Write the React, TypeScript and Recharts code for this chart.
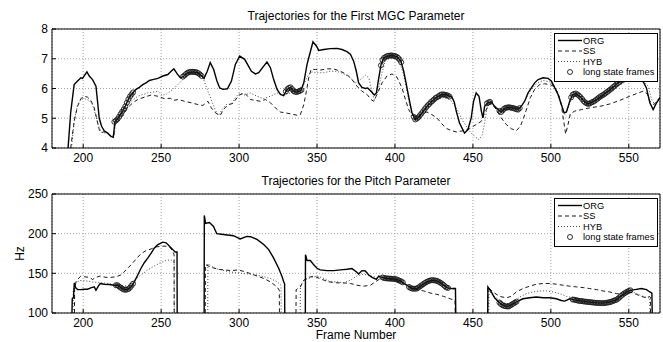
import React from 'react';
import { CartesianGrid, ComposedChart, Line, ReferenceArea, XAxis, YAxis } from 'recharts';

const FONT = '"Liberation Sans", Arial, Helvetica, sans-serif';

// axis ticks
const frameTicks = [200, 250, 300, 350, 400, 450, 500, 550];
const mgcTicks = [4, 5, 6, 7, 8];
const pitchTicks = [100, 150, 200, 250];
const legendNames = ['ORG', 'SS', 'HYB', 'long state frames'];

type Pair = [number, number | null];

// ---- first MGC parameter: [frame, value]
const mgcOrg: Pair[] = [
  [190.3, 4], [192, 5.2], [194.2, 6.13], [196.4, 6.25], [198.5, 6.36], [199.6, 6.34], [201, 6.45], [202.4, 6.56],
  [203.9, 6.42], [206, 6.3], [208.2, 6.08], [209.2, 5.57], [210.3, 5.0], [211.8, 4.73], [213.5, 4.58], [215.7, 4.5],
  [217.8, 4.39], [219.3, 4.36], [220.4, 4.9], [221.7, 4.96], [223.2, 5.07], [225.3, 5.24], [227.5, 5.46], [229.6, 5.71],
  [231.8, 5.85], [233.9, 5.97], [236, 6.04], [238.2, 6.13], [240.3, 6.19], [242.5, 6.27], [244.6, 6.3], [247.9, 6.34],
  [251.1, 6.42], [254.3, 6.47], [256.4, 6.58], [258.2, 6.66], [260.3, 6.49], [262.4, 6.36], [264.6, 6.42], [267.2, 6.53],
  [270.4, 6.56], [273.6, 6.53], [276.2, 6.42], [277.5, 6.34], [279.6, 6.58], [281.5, 6.87], [283.7, 6.64], [285.8, 6.25],
  [287.6, 6.02], [289.7, 5.97], [292.5, 5.99], [295.1, 6.25], [297.6, 6.81], [300.4, 7.09], [303.6, 6.98], [307.9, 6.58],
  [310.5, 6.49], [312.6, 6.53], [315.8, 6.75], [317.9, 6.89], [320.1, 6.7], [322.2, 6.3], [324.4, 5.97], [326.5, 5.8],
  [328.6, 5.76], [330.8, 5.97], [332.9, 6.04], [335, 5.91], [337.2, 5.88], [339.7, 5.93], [341.5, 6.19], [343.6, 6.81],
  [345.3, 7.15], [347.4, 7.57], [349.6, 7.43], [351.1, 7.28], [354.3, 7.31], [358.5, 7.34], [362.8, 7.35], [366, 7.31],
  [369.2, 7.24], [371.4, 7.15], [373.5, 6.92], [375.2, 6.58], [376.7, 6.19], [378.8, 6.04], [381, 6.0], [382.5, 6.02],
  [384.6, 5.91], [386.8, 5.78], [388.1, 5.85], [389.6, 6.36], [391.1, 6.81], [392.8, 7.03], [395.3, 7.09], [398.1, 7.11],
  [401.3, 7.07], [403.8, 6.92], [405.6, 6.58], [407.3, 6.13], [409.4, 5.57], [410.9, 5.18], [413, 4.96], [415.2, 5.03],
  [417.3, 5.18], [420.5, 5.4], [423.7, 5.57], [426.9, 5.71], [430.1, 5.8], [433.3, 5.78], [436.5, 5.71], [438, 5.55],
  [439.3, 5.24], [441.4, 4.84], [444.6, 4.5], [446.8, 4.62], [448.9, 5.01], [450.4, 5.57], [452.1, 5.85], [453.9, 5.74],
  [455.4, 5.24], [456.4, 5.01], [457.5, 5.4], [459.6, 5.52], [461.8, 5.55], [463.9, 5.4], [466.1, 5.29], [468.2, 5.21],
  [470.3, 5.33], [473.6, 5.37], [476.8, 5.33], [478.9, 5.29], [481, 5.4], [483.2, 5.57], [485.3, 5.85], [487.5, 6.02],
  [489.6, 6.19], [491.8, 6.3], [495, 6.36], [498.2, 6.34], [500.3, 6.25], [502.5, 6.02], [504.6, 5.8], [506.7, 5.46],
  [508.5, 5.18], [510, 5.21], [512.1, 5.57], [513.8, 5.78], [516, 5.83], [518.5, 5.74], [521.7, 5.55], [523.9, 5.48],
  [527.1, 5.55], [530.3, 5.66], [533.5, 5.78], [536.7, 5.91], [539.9, 6.04], [543.1, 6.19], [546.3, 6.3], [549.6, 6.38],
  [553.5, 6.48], [557, 6.4], [559.5, 6.2], [561.3, 6.02], [563.5, 5.52], [565.6, 5.29], [567.8, 5.52], [570, 5.69],
];

const mgcSs: Pair[] = [
  [192, 4], [193.1, 4.45], [194.6, 5.01], [196.4, 5.4], [198.5, 5.66], [200.6, 5.74], [202.8, 5.71], [204.9, 5.6],
  [207.1, 5.35], [208.8, 4.96], [210.3, 4.62], [211.4, 4.51], [213.5, 4.55], [216, 4.48], [218.5, 4.38], [219.5, 4.4],
  [220.5, 4.85], [222, 4.9], [225.3, 5.07], [228.5, 5.35], [231.8, 5.52], [235, 5.63], [239.3, 5.71], [243.6, 5.78],
  [247.9, 5.74], [252.1, 5.66], [256, 5.67], [258, 5.6], [261, 5.63], [265, 5.57], [269.3, 5.52], [273.6, 5.46],
  [276.8, 5.43], [280, 5.57], [282.2, 5.35], [284.3, 5.21], [286.5, 5.12], [288, 5.1], [290, 5.3], [293, 5.45],
  [296, 5.5], [300, 5.78], [303.6, 5.85], [307.3, 5.63], [310.5, 5.6], [313.7, 5.57], [316.9, 5.63], [320.1, 5.52],
  [323.3, 5.35], [326.5, 5.21], [329.7, 5.18], [332.9, 5.15], [337.2, 5.1], [339.3, 5.12], [341.5, 5.46], [343.2, 5.91],
  [344.7, 6.36], [346.2, 6.64], [349, 6.64], [352.1, 6.62], [356.4, 6.66], [360.7, 6.66], [365, 6.58], [369.2, 6.47],
  [372.4, 6.3], [375.6, 6.08], [378.8, 5.91], [382.1, 5.8], [384.6, 5.63], [386.3, 5.57], [388.5, 5.8], [391.7, 6.19],
  [394.9, 6.42], [398.1, 6.49], [401.3, 6.38], [404.5, 6.02], [406.7, 5.63], [408.8, 5.29], [410.9, 5.1], [414.1, 5.07],
  [417.3, 5.15], [420.5, 5.21], [423.7, 5.12], [426.9, 5.01], [430.1, 4.81], [433.3, 4.65], [436.5, 4.58], [439.3, 4.54],
  [443.6, 4.58], [447.9, 4.65], [452.1, 4.79], [455.4, 4.9], [457.5, 5.18], [459.6, 5.4], [461.8, 5.52], [465, 5.29],
  [468.2, 5.01], [471.4, 4.79], [474.6, 4.65], [477.8, 4.58], [480.4, 4.73], [482.5, 5.01], [484.7, 5.35], [486.8, 5.69],
  [489.6, 5.97], [492.8, 6.13], [496, 6.16], [499.3, 6.13], [501.8, 6.08], [504.6, 5.85], [506.7, 5.46], [508.2, 4.9],
  [509.5, 4.47], [511, 4.79], [512.5, 5.15], [515.3, 5.24], [519.6, 5.29], [524.9, 5.35], [531.4, 5.4], [537.8, 5.48],
  [544.2, 5.6], [550.6, 5.74], [556, 5.85], [559.2, 5.91], [561.8, 5.82], [563.5, 5.57], [566.1, 5.46], [568.8, 5.63],
  [570, 5.7],
];

const mgcHyb: Pair[] = [
  [192.5, 4], [194.2, 4.9], [196.4, 5.46], [198.5, 5.63], [200.6, 5.66], [203.9, 5.6], [206, 5.45], [208, 5.1],
  [210, 4.7], [212, 4.52], [215, 4.5], [218.5, 4.4], [220, 4.42], [220.8, 4.88], [223, 5.0], [226, 5.2], [228, 5.4],
  [230.7, 5.57], [235, 5.74], [241.4, 5.85], [247.9, 5.91], [250.5, 5.78], [253.2, 5.8], [258.6, 6.02], [262.9, 6.25],
  [266.1, 6.42], [269.3, 6.49], [273.6, 6.49], [276.8, 6.36], [280, 5.91], [283.3, 5.46], [285.4, 5.21], [286.9, 5.1],
  [289.1, 5.29], [291.8, 5.46], [295.1, 5.48], [298.3, 5.74], [300.4, 5.85], [303.6, 5.78], [307.3, 5.85], [311.5, 5.74],
  [315.8, 5.66], [320.1, 5.74], [324.4, 5.85], [328.6, 5.8], [332.9, 5.85], [337.2, 5.91], [340.4, 6.02], [342.5, 6.25],
  [344.7, 6.47], [346.8, 6.56], [350, 6.53], [354.3, 6.53], [358.5, 6.58], [362.8, 6.58], [367.1, 6.49], [371.4, 6.36],
  [374.6, 6.19], [377.8, 6.3], [381, 6.45], [383.2, 6.36], [385.3, 5.91], [386.8, 5.6], [389, 5.91], [391.7, 6.53],
  [393.8, 6.92], [397, 7.03], [400.2, 7.0], [403, 6.87], [405.6, 6.47], [407.7, 5.91], [409.8, 5.35], [412, 5.07],
  [415.2, 5.07], [418.4, 5.24], [422.6, 5.46], [426.9, 5.63], [431.2, 5.69], [435.3, 5.63], [439.3, 5.35], [443.6, 4.9],
  [447.9, 4.56], [451.1, 4.39], [453.9, 4.28], [456, 4.45], [457.5, 4.84], [459, 5.35], [460.7, 5.55], [462.8, 5.46],
  [466.1, 5.29], [469.3, 5.26], [473.6, 5.33], [477.8, 5.35], [481, 5.4], [484.3, 5.69], [487.5, 5.97], [490.7, 6.16],
  [495, 6.27], [499.3, 6.22], [502.5, 6.08], [505.2, 5.74], [507.4, 5.35], [508.9, 5.12], [511, 5.35], [513.2, 5.69],
  [516.4, 5.8], [519.6, 5.69], [522.8, 5.52], [527.1, 5.57], [532.4, 5.74], [537.8, 5.91], [543.1, 6.08], [548.5, 6.25],
  [553, 6.35], [559.2, 6.25], [562.4, 6.08], [564.6, 5.63], [566.7, 5.46], [570, 5.69],
];

const mgcLong: Pair[] = [
  [220, 4.88], [221, 4.92], [222, 4.97], [223, 5.05], [224, 5.14], [225, 5.22], [226, 5.3], [227, 5.4], [228, 5.52],
  [229, 5.64], [230, 5.73], [231, 5.8], [232, 5.87],
  [264, 6.4], [265, 6.44], [266, 6.49], [267, 6.53], [268, 6.55], [269, 6.56], [270, 6.56], [271, 6.56], [272, 6.55],
  [273, 6.54], [274, 6.51], [275, 6.47], [276, 6.42],
  [330, 5.9], [331, 5.98], [332, 6.02], [333, 6.04], [334, 5.98], [335, 5.91], [336, 5.89], [337, 5.88], [338, 5.9],
  [339, 5.92], [340, 5.95],
  [391, 6.78], [392, 6.96], [393, 7.03], [394, 7.06], [395, 7.09], [396, 7.1], [397, 7.11], [398, 7.11], [399, 7.1],
  [400, 7.09], [401, 7.07], [402, 7.03], [403, 6.97], [404, 6.88],
  [412, 5.05], [413, 4.96], [414, 4.99], [415, 5.03], [416, 5.1], [417, 5.16], [418, 5.23], [419, 5.3], [420, 5.37],
  [421, 5.43], [422, 5.48], [423, 5.54], [424, 5.58], [425, 5.63], [426, 5.68], [427, 5.71], [428, 5.74], [429, 5.78],
  [430, 5.8], [431, 5.8], [432, 5.79], [433, 5.78], [434, 5.76], [435, 5.73],
  [459, 5.5], [460, 5.53], [461, 5.55],
  [467, 5.25], [468, 5.21], [469, 5.26], [470, 5.32], [471, 5.35], [472, 5.36], [473, 5.37], [474, 5.36], [475, 5.35],
  [476, 5.34], [477, 5.32], [478, 5.3], [479, 5.29], [480, 5.34],
  [513, 5.7], [514, 5.79], [515, 5.82], [516, 5.83], [517, 5.8], [518, 5.76], [519, 5.71], [520, 5.65], [521, 5.58],
  [522, 5.53], [523, 5.5], [524, 5.48], [525, 5.5], [526, 5.53], [527, 5.55], [528, 5.58], [529, 5.62], [530, 5.66],
  [531, 5.7], [532, 5.74], [533, 5.77], [534, 5.8], [535, 5.84], [536, 5.88], [537, 5.92], [538, 5.96], [539, 6.0],
  [540, 6.05], [541, 6.09], [542, 6.14], [543, 6.18], [544, 6.22], [545, 6.26], [546, 6.29], [547, 6.32], [548, 6.35],
  [549, 6.37], [550, 6.4], [551, 6.42], [552, 6.45], [553, 6.47],
];

// ---- pitch (Hz): null = unvoiced gap
const pitchOrg: Pair[] = [
  [192.8, 100], [193, 118], [193.8, 119], [194.3, 138], [195.2, 132], [196.4, 129.5], [198.5, 129.5], [200.6, 130],
  [202.8, 130], [204.9, 131.6], [207.1, 132.9], [208.2, 128.6], [209.7, 133.8], [210.9, 137.2], [213.5, 136.3],
  [216.7, 135.9], [220, 135], [222.1, 135], [224.2, 132], [226.4, 129.5], [228.5, 129.5], [230.7, 132.9], [232.8, 139.3],
  [235, 147.9], [237.1, 156.4], [239.3, 163.7], [241.4, 169.2], [243.6, 175.6], [245.7, 182], [247.9, 186.3],
  [251.1, 189.3], [253.2, 188.5], [255.4, 184.2], [257.5, 179.9], [259, 176.9], [260.2, 176.9], [260.3, 100], [261, null],
  [277.6, 100], [277.7, 223], [278.5, 213], [279.3, 213.4], [281, 214], [283.6, 209.2], [285.7, 200], [290, 199],
  [296.4, 197.4], [300.7, 193.3], [305, 196.6], [307.3, 196.2], [311.5, 192.7], [315.8, 186.3], [319, 179.9],
  [322.2, 169.2], [325.4, 156.4], [327.6, 145.7], [328.6, 139.3], [329.2, 137], [329.3, 100], [330, null],
  [342.5, 100], [342.6, 173.5], [343.6, 166.2], [345.7, 166.2], [347.9, 160.7], [350, 156.4], [352.1, 154.3],
  [356.4, 153.4], [360.7, 153.4], [365, 154.3], [369.2, 155.1], [372.4, 156], [375.2, 152.1], [376.7, 149.1],
  [378.8, 153.4], [381, 153], [383.2, 147.9], [385.3, 144.9], [388.1, 142.3], [389.6, 146.6], [391.7, 144.9],
  [394.9, 143.6], [398.1, 143.2], [401.3, 142.3], [404.5, 139.3], [407.7, 135], [410.9, 130.8], [414.1, 130.8],
  [417.3, 135], [420.5, 139.3], [423.7, 141.4], [426.9, 140.6], [430.1, 137.2], [433.3, 132], [436.5, 130.8],
  [438.8, 131], [439, 100], [440, null],
  [459.5, 100], [459.6, 132.9], [461.8, 126.5], [463.9, 119.2], [466.7, 113.7], [469.3, 109.4], [472.5, 108.1],
  [475.7, 111.5], [478.9, 115], [482.1, 117.9], [486.4, 119.2], [490.7, 120.1], [495, 119.2], [499.3, 119.2],
  [503.5, 117.9], [506.7, 115.8], [508.9, 115], [512.1, 117.9], [515.3, 116.6], [519.6, 115], [524.9, 113.7],
  [529.2, 112.8], [533.5, 112.4], [537.8, 113.7], [542.1, 116.6], [546.4, 123.5], [550.6, 128.6], [553.9, 129.5],
  [558.1, 130.8], [561.3, 129.5], [563.5, 126.5], [564.8, 125], [565, 100],
];

const pitchSs: Pair[] = [
  [194.4, 100], [194.5, 130], [195.5, 140], [196.4, 142.3], [198.3, 146.1], [200.6, 145.7], [203.9, 144.9], [206, 142.3],
  [208.2, 144.9], [210.9, 146.6], [214.6, 144.9], [217.8, 144.9], [221, 145.7], [224.2, 147.9], [227.5, 154.3],
  [230.7, 160.7], [233.9, 167.9], [237.1, 174.8], [240.3, 178.6], [243.6, 180.8], [246.8, 183.3], [250, 184.2],
  [253.2, 184.2], [255.4, 183.3], [257.5, 177.8], [258.3, 173.5], [258.4, 100], [259, null],
  [278.3, 100], [278.4, 161], [282.2, 157.7], [286.5, 155.1], [290.8, 154.3], [295.1, 153.4], [299.4, 154.3],
  [303.6, 152.1], [307.5, 149.5], [311.5, 146.6], [315.8, 143.6], [320.1, 139.3], [324.4, 132.9], [325.8, 128.6],
  [325.9, 100], [327, null],
  [336.5, 100], [336.6, 129.4], [339.3, 132.9], [341.5, 141.4], [344.7, 144.9], [347.9, 146.6], [350, 144.9],
  [353.2, 142.3], [357.5, 139.3], [362.8, 138], [367.1, 138], [371.4, 137.2], [375.6, 135], [379.9, 133.8],
  [384.2, 135], [388.5, 140.6], [391.7, 144.9], [397, 142.3], [401.3, 140.6], [405.6, 137.2], [409.8, 132.9],
  [414.1, 129.5], [418.4, 127.8], [422.6, 125.2], [426.9, 123.5], [431.2, 120.9], [435.5, 117.9], [438.5, 115.8],
  [438.6, 100], [440, null],
  [459.5, 100], [459.6, 132.9], [462.8, 126.5], [467.1, 120.9], [471.4, 119.2], [474.6, 120.9], [477.8, 126.5],
  [482.1, 130.8], [486.4, 133.8], [490.7, 136.3], [495, 137.2], [499.3, 137.2], [503.5, 136.3], [507.8, 135],
  [512.1, 133.8], [516.4, 132.9], [520.7, 132], [524.9, 130.8], [529.2, 129.5], [533.5, 127.8], [537.8, 126.5],
  [542.1, 124.4], [546.4, 123.5], [550.6, 126.5], [554.9, 123.5], [558.1, 120.9], [561.3, 119.2], [563.1, 120.9],
  [563.8, 120], [563.9, 100],
];

const pitchHyb: Pair[] = [
  [193.5, 100], [193.6, 128], [195, 138], [198, 141], [202, 140.5], [206, 139], [210, 138.5], [215, 137.5], [220, 136],
  [225, 134.5], [228.5, 134], [232.8, 141.4], [237.1, 147.9], [241.4, 154.3], [245.7, 159.4], [250, 163.7],
  [253.2, 166.2], [256.4, 167], [258.3, 164], [258.4, 100], [259, null],
  [279.9, 100], [280, 162], [284.5, 156.4], [288.6, 154.3], [292.9, 152.1], [297.2, 150.9], [301.5, 150], [305.8, 149.1],
  [311.5, 147.9], [315.8, 145.7], [320.1, 143.6], [324.4, 139.3], [326.9, 135], [327, 100], [328, null],
  [339.2, 100], [339.3, 135], [342.5, 142.3], [346.8, 144.9], [350, 146.6], [354.3, 143.6], [358.5, 139.3],
  [362.8, 139.3], [367.1, 138], [371.4, 141.4], [375.6, 146.6], [379.9, 149.1], [384.2, 146.6], [388.5, 144.9],
  [391.7, 144], [395, 142.8], [398.1, 142.4], [401.3, 141.5], [404.5, 138.5], [407.7, 134.2], [410.9, 130],
  [414.1, 130], [417.3, 134.2], [420.5, 138.5], [423.7, 140.6], [426.9, 139.8], [430.1, 136.4], [433.3, 131.2],
  [436.5, 130], [438.7, 130], [438.8, 100], [440, null],
  [460.2, 100], [460.3, 128], [462.8, 122.2], [467.1, 115.8], [471.4, 111.5], [475.7, 113.7], [480, 120.1],
  [484.3, 124.4], [488.5, 126.5], [492.8, 127.8], [497.1, 127.8], [501.4, 126.5], [505.7, 124.4], [510, 120.9],
  [514.2, 119.2], [519.6, 116], [524.9, 114.5], [529.2, 113.6], [533.5, 113.2], [537.8, 114.5], [542.1, 117.4],
  [546.4, 124.3], [550.6, 128.6], [554.9, 124.4], [559.2, 120.9], [562.4, 119.2], [563.4, 119], [563.5, 100],
];

const pitchLong: Pair[] = [
  [221, 135], [222, 135], [223, 133.5], [224, 132], [225, 130.8], [226, 129.6], [227, 129.3], [228, 129.5],
  [229, 130.2], [230, 131.8], [231, 134.5], [232, 137],
  [392, 144.8], [393, 144.2], [394, 143.8], [395, 143.6], [396, 143.4], [397, 143.3], [398, 143.2], [399, 143],
  [400, 142.7], [401, 142.4], [402, 141.5], [403, 140.6], [404, 139.8], [405, 138.6],
  [409, 132.8], [410, 131.5], [411, 130.8], [412, 130.6], [413, 130.7], [414, 130.8], [415, 132], [416, 133.5],
  [417, 134.8], [418, 136.2], [419, 137.6], [420, 138.8], [421, 139.8], [422, 140.6], [423, 141.2], [424, 141.4],
  [425, 141.2], [426, 140.9], [427, 140.4], [428, 139.5], [429, 138.3], [430, 137.2], [431, 135.6], [432, 133.8],
  [433, 132.2], [434, 131.6],
  [467, 113.2], [468, 111.3], [469, 109.8], [470, 109], [471, 108.5], [472, 108.2], [473, 108.3], [474, 109.5],
  [475, 110.8], [476, 111.9], [477, 113.2], [478, 114.3],
  [514, 117], [515, 116.7], [516, 116.3], [517, 115.8], [518, 115.4], [519, 115.1], [520, 114.9], [521, 114.6],
  [522, 114.3], [523, 114.1], [524, 113.9], [525, 113.7], [526, 113.5], [527, 113.2], [528, 113], [529, 112.8],
  [530, 112.7], [531, 112.6], [532, 112.5], [533, 112.4], [534, 112.5], [535, 112.7], [536, 113], [537, 113.4],
  [538, 113.8], [539, 114.4], [540, 115.2], [541, 116], [542, 116.6], [543, 118], [544, 119.6], [545, 121.5],
  [546, 123.2], [547, 124.6], [548, 125.8], [549, 126.9], [550, 127.9], [551, 128.6],
];

const toRows = (pairs: Pair[]) => pairs.map(([f, v]) => ({ f, v }));

const tickStyle = { fontSize: 12, fill: '#000', fontFamily: FONT };
const markerStyle = { r: 2.5, fill: 'none', stroke: '#1a1a1a', strokeWidth: 0.9 };

interface PanelProps {
  top: number;
  height: number;
  axisHeight: number;
  yDomain: [number, number];
  yTicks: number[];
  org: Pair[];
  ss: Pair[];
  hyb: Pair[];
  marks: Pair[];
}

const Panel = ({ top, height, axisHeight, yDomain, yTicks, org, ss, hyb, marks }: PanelProps) => (
  <div style={{ position: 'absolute', left: 0, top, width: 663, height }}>
    <ComposedChart width={663} height={height} margin={{ top: 29, right: 3, bottom: 0, left: 0 }}>
      <CartesianGrid stroke="#8c8c8c" strokeDasharray="1 2" strokeWidth={0.8} />
      <XAxis
        type="number"
        dataKey="f"
        domain={[180, 570]}
        ticks={frameTicks}
        interval={0}
        allowDataOverflow
        axisLine={false}
        stroke="#000"
        tickSize={-4}
        tickMargin={9}
        height={axisHeight}
        tick={tickStyle}
      />
      <XAxis
        xAxisId="top"
        orientation="top"
        type="number"
        dataKey="f"
        domain={[180, 570]}
        ticks={frameTicks}
        interval={0}
        allowDataOverflow
        axisLine={false}
        stroke="#000"
        tickSize={-4}
        tick={false}
        height={0}
      />
      <YAxis
        type="number"
        domain={yDomain}
        ticks={yTicks}
        interval={0}
        allowDataOverflow
        axisLine={false}
        stroke="#000"
        tickSize={-4}
        tickMargin={8}
        width={52}
        tick={tickStyle}
      />
      <YAxis
        yAxisId="right"
        orientation="right"
        type="number"
        domain={yDomain}
        ticks={yTicks}
        interval={0}
        allowDataOverflow
        axisLine={false}
        stroke="#000"
        tickSize={-4}
        tick={false}
        width={0}
      />
      <Line data={toRows(ss)} dataKey="v" stroke="#000" strokeWidth={0.9} strokeDasharray="4 3"
        dot={false} activeDot={false} isAnimationActive={false} />
      <Line data={toRows(hyb)} dataKey="v" stroke="#333" strokeWidth={0.9} strokeDasharray="1 2"
        dot={false} activeDot={false} isAnimationActive={false} />
      <Line data={toRows(org)} dataKey="v" stroke="#000" strokeWidth={1.4}
        dot={false} activeDot={false} isAnimationActive={false} />
      <Line data={toRows(marks)} dataKey="v" stroke="none" dot={markerStyle}
        activeDot={false} isAnimationActive={false} />
      <ReferenceArea x1={180} x2={570} y1={yDomain[0]} y2={yDomain[1]} fill="none" stroke="#000" strokeWidth={1} />
    </ComposedChart>
  </div>
);

const LegendBox = ({ top }: { top: number }) => {
  const rows = [7.5, 18, 28.5, 39];
  return (
    <svg style={{ position: 'absolute', left: 554, top }} width={104} height={49}>
      <rect x={0.5} y={0.5} width={103} height={48} fill="#fff" stroke="#000" strokeWidth={1} />
      <line x1={4} x2={28} y1={rows[0]} y2={rows[0]} stroke="#000" strokeWidth={1.4} />
      <line x1={4} x2={28} y1={rows[1]} y2={rows[1]} stroke="#000" strokeWidth={0.9} strokeDasharray="4 3" />
      <line x1={4} x2={28} y1={rows[2]} y2={rows[2]} stroke="#333" strokeWidth={0.9} strokeDasharray="1 2" />
      <circle cx={16} cy={rows[3]} r={markerStyle.r} fill="none" stroke={markerStyle.stroke} strokeWidth={markerStyle.strokeWidth} />
      {legendNames.map((name, i) => (
        <text key={name} x={29} y={rows[i]} dy="0.35em" fontSize={9.3} fontFamily={FONT} fill="#000">
          {name}
        </text>
      ))}
    </svg>
  );
};

export default function App() {
  return (
    <div style={{ position: 'absolute', left: 0, top: 0, width: 663, height: 342, background: '#fff' }}>
      <Panel top={0} height={165} axisHeight={17} yDomain={[4, 8]} yTicks={mgcTicks}
        org={mgcOrg} ss={mgcSs} hyb={mgcHyb} marks={mgcLong} />
      <Panel top={165} height={177} axisHeight={29} yDomain={[100, 250]} yTicks={pitchTicks}
        org={pitchOrg} ss={pitchSs} hyb={pitchHyb} marks={pitchLong} />
      <svg style={{ position: 'absolute', left: 0, top: 0 }} width={663} height={342} pointerEvents="none">
        <g fontFamily={FONT} fontSize={12} fill="#000" textAnchor="middle">
          <text x={356} y={19.5}>Trajectories for the First MGC Parameter</text>
          <text x={356} y={185}>Trajectories for the Pitch Parameter</text>
          <text x={356} y={338.5}>Frame Number</text>
          <text x={24} y={253.5} transform="rotate(-90 24 253.5)">Hz</text>
        </g>
      </svg>
      <LegendBox top={33} />
      <LegendBox top={198} />
    </div>
  );
}
